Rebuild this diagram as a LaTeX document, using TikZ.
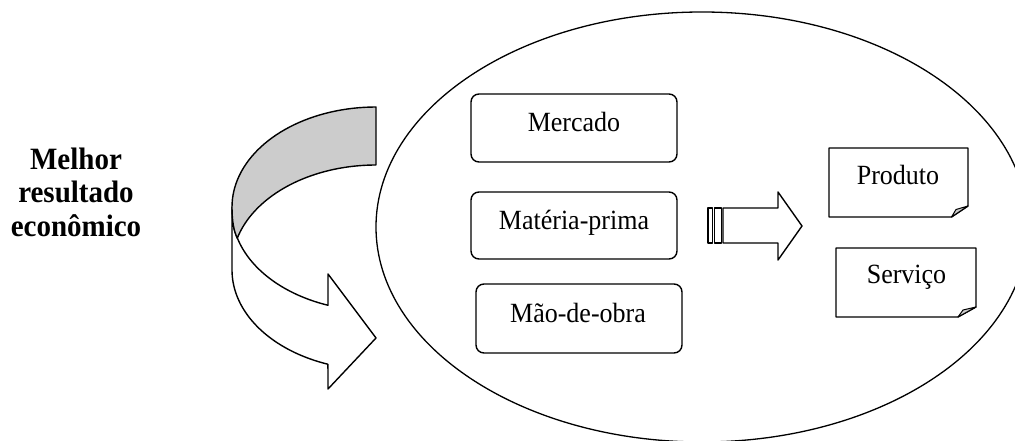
\documentclass[tikz,border=0pt]{standalone}
\usepackage{fontspec}
\setmainfont{Liberation Serif}
\usetikzlibrary{shapes.geometric,calc}
\definecolor{foldgray}{RGB}{204,204,204}
\newcommand{\tallt}[1]{\scalebox{1}[1.07]{#1}}
\begin{document}
\begin{tikzpicture}[x=1pt,y=-1pt, line join=round,
  rbox/.style={draw, line width=1.4pt, rounded corners=8pt, minimum width=206pt, inner sep=0pt, outer sep=0pt},
  fbox/.style={minimum height=69pt, inner sep=0pt, outer sep=0pt},
  lbl/.style={font=\fontsize{26}{30}\selectfont, inner sep=0pt, anchor=base},
  blbl/.style={font=\bfseries\fontsize{29}{33}\selectfont, inner sep=0pt, anchor=base},
  outl/.style={line width=1.4pt},
  foldfill/.style={fill=foldgray, line width=1pt}]
\useasboundingbox (0,0) rectangle (1015,441);
\fill[white] (0,0) rectangle (1015,441);
\clip (0,0) rectangle (1015,441);

% big ellipse
\node[draw, ellipse, line width=1.3pt, minimum width=652pt, minimum height=430pt, inner sep=0pt] (oval) at (702,227) {};

% left text
\node[blbl] (t1) at (76,170) {\tallt{Melhor}};
\node[blbl] (t2) at (76,203) {\tallt{resultado}};
\node[blbl] (t3) at (76,236.5) {\tallt{econômico}};

% curved arrow: front (white) band
\filldraw[outl, fill=white] (232,207) -- (232,270)
  -- plot[variable=\t, domain=180:109.5, samples=40] ({376+144*cos(\t)},{270+100*sin(\t)})
  -- (328,389) -- (376,338) -- (328,274) -- (328,305)
  -- plot[variable=\t, domain=109.5:164.8, samples=40] ({376+144*cos(\t)},{211+100*sin(\t)})
  .. controls (234,231) and (232,222) .. (232,207) -- cycle;
% curved arrow: back (gray) band
\filldraw[outl, fill=foldgray] plot[variable=\t, domain=270:180, samples=40] ({376+144*cos(\t)},{207+100*sin(\t)})
  .. controls (232,222) and (234,231) .. (237,237.5)
  -- plot[variable=\t, domain=195.5:270, samples=40] ({376+144*cos(\t)},{265+100*sin(\t)}) -- cycle;

% rounded boxes
\node[rbox, minimum height=68pt] (mercado) at (574,128) {};
\node[rbox, minimum height=67pt] (materia) at (574,225.5) {};
\node[rbox, minimum height=69pt] (mao) at (579,318.5) {};
\node[lbl] (mercadoT) at (574,131.5) {\tallt{Mercado}};
\node[lbl] (materiaT) at (574,229.5) {\tallt{Matéria-prima}};
\node[lbl] (maoT) at (578,322.5) {\tallt{Mão-de-obra}};

% striped block arrow
\draw[line width=1.2pt] (708,208) rectangle (712.5,243);
\draw[line width=1.2pt] (714.5,208) rectangle (721.5,243);
\draw[outl] (723,208) -- (778,208) -- (778,192) -- (802,226) -- (778,260) -- (778,243) -- (723,243) -- cycle;

% folded-corner boxes
\node[fbox, minimum width=139pt] (produto) at (898.5,182.5) {};
\draw[outl] (produto.north west) -- (produto.north east) -- ($(produto.south east)+(0,-11)$)
  -- ($(produto.south east)+(-16.5,0)$) -- (produto.south west) -- cycle;
\filldraw[foldfill] ($(produto.south east)+(-16.5,0)$) .. controls ($(produto.south east)+(-14.5,-4)$) .. ($(produto.south east)+(-12,-7.5)$)
  -- ($(produto.south east)+(0,-11)$) -- cycle;
\node[lbl] (produtoT) at (898,185) {\tallt{Produto}};

\node[fbox, minimum width=140pt] (servico) at (906,282.5) {};
\draw[outl] (servico.north west) -- (servico.north east) -- ($(servico.south east)+(0,-10)$)
  -- ($(servico.south east)+(-18,0)$) -- (servico.south west) -- cycle;
\filldraw[foldfill] ($(servico.south east)+(-18,0)$) .. controls ($(servico.south east)+(-15.5,-3.5)$) .. ($(servico.south east)+(-13,-7)$)
  -- ($(servico.south east)+(0,-10)$) -- cycle;
\node[lbl] (servicoT) at (906.5,283) {\tallt{Serviço}};
\end{tikzpicture}
\end{document}
